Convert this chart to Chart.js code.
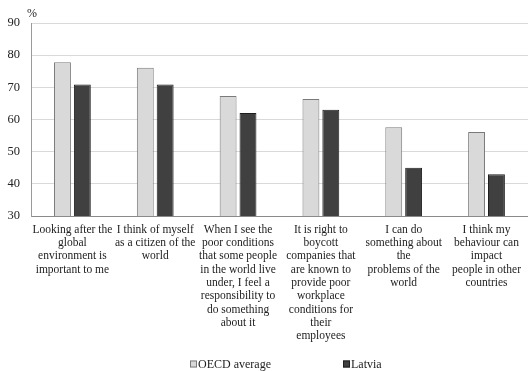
<!DOCTYPE html>
<html>
<head>
<meta charset="utf-8">
<script src="https://cdn.jsdelivr.net/npm/chart.js@4/dist/chart.umd.min.js"></script>
<style>
  html, body { margin: 0; padding: 0; background: #fff; }
  #wrap { width: 528px; height: 371px; position: relative; }
</style>
</head>
<body>
<div id="wrap"><canvas id="chart"></canvas></div>
<script>
const categories = [
  ['Looking after the', 'global', 'environment is', 'important to me'],
  ['I think of myself', 'as a citizen of the', 'world'],
  ['When I see the', 'poor conditions', 'that some people', 'in the world live', 'under, I feel a', 'responsibility to', 'do something', 'about it'],
  ['It is right to', 'boycott', 'companies that', 'are known to', 'provide poor', 'workplace', 'conditions for', 'their', 'employees'],
  ['I can do', 'something about', 'the', 'problems of the', 'world'],
  ['I think my', 'behaviour can', 'impact', 'people in other', 'countries']
];
const oecdValues = [77.8, 76.1, 67.3, 66.4, 57.6, 56.1];
const latviaValues = [70.9, 70.9, 62.0, 63.0, 45.0, 43.0];
const seriesNames = ['OECD average', 'Latvia'];
const yTicks = [30, 40, 50, 60, 70, 80, 90];

const FONT = '"Liberation Serif", "Times New Roman", serif';
const TEXT = '#222';

// legend + "%" label drawn by hand so the two items can sit far apart
const extras = {
  id: 'extras',
  afterDraw(chart) {
    const c = chart.ctx;
    c.save();
    c.fillStyle = TEXT;
    c.font = '12px ' + FONT;
    c.textBaseline = 'middle';
    c.textAlign = 'left';
    c.fillText('%', 27, 14);

    const starts = [190, 343];
    chart.data.datasets.forEach((ds, i) => {
      const x = starts[i];
      const y = 364;
      c.fillStyle = ds.backgroundColor;
      c.strokeStyle = ds.borderColor;
      c.lineWidth = 1;
      c.fillRect(x, y - 3.5, 7, 7);
      c.strokeRect(x + 0.5, y - 3, 6, 6);
      c.fillStyle = TEXT;
      c.fillText(ds.label, x + 8, y + 0.5);
    });
    c.restore();
  }
};

new Chart(document.getElementById('chart').getContext('2d'), {
  type: 'bar',
  data: {
    labels: categories,
    datasets: [
      {
        label: seriesNames[0],
        data: oecdValues,
        backgroundColor: '#d9d9d9',
        borderColor: '#7a7a7a',
        borderWidth: 1,
        barPercentage: 0.85,
        categoryPercentage: 0.48,
      },
      {
        label: seriesNames[1],
        data: latviaValues,
        backgroundColor: '#404040',
        borderColor: '#1e1e1e',
        borderWidth: 1,
        barPercentage: 0.85,
        categoryPercentage: 0.48,
      },
    ],
  },
  options: {
    responsive: true,
    maintainAspectRatio: false,
    animation: false,
    layout: { padding: { top: 23, right: 0, bottom: 0, left: 0 } },
    scales: {
      x: {
        grid: { display: false, drawTicks: false },
        border: { color: '#8a8a8a', width: 1 },
        ticks: {
          autoSkip: false,
          maxRotation: 0,
          minRotation: 0,
          padding: 7,
          color: TEXT,
          font: { family: FONT, size: 11.5, lineHeight: 1.16 },
        },
        afterFit(scale) { scale.height = 155; },
      },
      y: {
        min: 30,
        max: 90,
        afterBuildTicks(scale) { scale.ticks = yTicks.map(v => ({ value: v })); },
        grid: { color: '#d9d9d9', drawTicks: false },
        border: { color: '#9a9a9a', width: 1 },
        ticks: {
          padding: 11,
          color: TEXT,
          font: { family: FONT, size: 12.5 },
        },
        afterFit(scale) { scale.width = 31; },
      },
    },
    plugins: {
      legend: { display: false },
      tooltip: { enabled: false },
    },
  },
  plugins: [extras],
});
</script>
</body>
</html>
